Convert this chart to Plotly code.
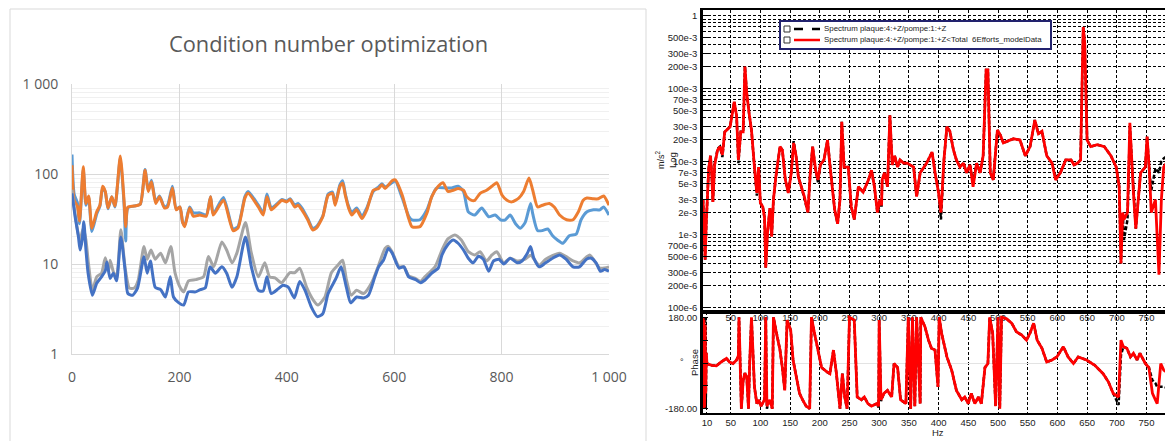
import plotly.graph_objects as go

# ---------------- LEFT CHART DATA (Condition number optimization) ----------------
ORANGE_X = [0, 4, 10, 14, 21, 26, 31, 37, 46, 52, 57, 62, 67, 74, 80, 90, 97, 100, 104, 115, 127, 136, 142, 148, 156, 163, 172, 178, 187, 194, 201, 206, 210, 219, 226, 238, 250, 258, 263, 282, 300, 309, 322, 328, 347, 356, 363, 371, 384, 391, 400, 406, 415, 421, 428, 439, 448, 455, 467, 477, 485, 490, 499, 504, 509, 515, 521, 530, 540, 549, 561, 571, 577, 583, 596, 602, 615, 627, 633, 648, 661, 670, 682, 691, 700, 710, 719, 729, 735, 744, 750, 760, 772, 782, 791, 801, 810, 819, 832, 841, 851, 858, 867, 876, 889, 898, 908, 921, 933, 943, 952, 959, 971, 980, 990, 1000]
ORANGE_Y = [125, 51, 44, 30, 120, 47, 57, 25, 38, 45, 73, 64, 42, 56, 44, 158, 50, 26, 43, 44, 46, 110, 64, 82, 47, 56, 42, 43, 70, 40, 43, 29, 26, 42, 34, 35, 34, 56, 35, 51, 23.5, 25, 54, 61, 43, 35, 56, 40, 47, 51, 49, 52, 43, 45, 40, 31, 24, 25, 33.5, 58, 61, 45, 73, 79, 58, 42, 35, 40, 32, 40, 66, 69, 76, 69, 84, 86, 58, 32, 26, 26, 37, 56, 73, 80, 64, 66, 69, 66, 56, 51, 51, 61, 66, 73, 80, 58, 51, 49, 54, 64, 90, 66, 43, 45, 47, 43, 35, 31, 31, 38, 51, 54, 53, 53, 57, 45]

LBLUE_X = [0, 4, 10, 14, 21, 26, 31, 37, 46, 52, 57, 62, 67, 74, 80, 90, 97, 100, 104, 115, 127, 136, 142, 148, 156, 163, 172, 178, 187, 194, 201, 206, 210, 219, 226, 238, 250, 258, 263, 282, 300, 309, 322, 328, 347, 356, 363, 371, 384, 391, 400, 406, 415, 421, 428, 439, 448, 455, 467, 477, 485, 490, 499, 504, 509, 515, 521, 530, 540, 549, 561, 571, 577, 583, 596, 602, 615, 627, 633, 648, 661, 670, 679, 695, 707, 719, 729, 738, 750, 763, 776, 788, 798, 807, 816, 826, 835, 844, 854, 858, 867, 876, 886, 895, 904, 914, 926, 939, 948, 959, 971, 983, 990, 1000]
LBLUE_Y = [165, 60, 48, 28, 112, 45, 55, 23, 36, 44, 70, 63, 41, 56, 43, 150, 45, 18, 42, 44, 46, 112, 66, 85, 49, 57, 43, 45, 73, 41, 43, 29, 27, 43, 37, 37, 35, 56, 36, 55, 24.5, 26, 56, 64, 45, 37, 60, 42, 48, 52, 50, 53, 45, 47, 42, 32, 25, 26, 34, 60, 63, 47, 76, 84, 60, 44, 37, 42, 34, 42, 64, 72, 78, 72, 80, 84, 54, 34, 31, 31, 40, 56, 70, 70, 70, 73, 64, 38, 35, 42, 33.5, 35, 31, 31, 35, 28, 25, 29, 47, 36, 23.5, 23.5, 24.5, 20.6, 18.5, 17, 20.6, 21.5, 31, 38, 40, 40, 43, 35]

DBLUE_X = [0, 6, 12, 15, 19, 22, 26, 30, 38, 46, 55, 62, 65, 71, 77, 83, 91, 99, 104, 113, 122, 134, 140, 146, 155, 165, 174, 183, 189, 199, 208, 217, 230, 239, 248, 257, 267, 279, 288, 298, 307, 323, 334, 347, 356, 363, 371, 384, 393, 403, 414, 424, 434, 446, 457, 467, 477, 492, 501, 511, 519, 530, 543, 552, 564, 571, 580, 589, 596, 609, 618, 627, 640, 649, 657, 670, 682, 689, 700, 710, 719, 729, 738, 747, 757, 766, 776, 785, 795, 804, 816, 829, 838, 848, 854, 860, 870, 882, 895, 908, 920, 933, 945, 958, 967, 976, 984, 992, 1000]
DBLUE_Y = [61, 33, 20, 14.3, 18.5, 29.5, 14.3, 7.9, 4.5, 6.1, 7.2, 8.4, 10.5, 6.9, 7.9, 6.5, 20, 8.4, 4.7, 4.5, 5.4, 12, 7.9, 10.8, 5.5, 5.2, 4.3, 7.2, 4.3, 3.7, 3.5, 4.9, 4.9, 5.2, 5.4, 9.3, 7.9, 9.3, 7.9, 5.5, 7.2, 20, 9.3, 5.1, 5, 7.2, 4.7, 5.3, 5.8, 5.5, 4.2, 6.4, 5.1, 3.3, 2.6, 2.8, 4.7, 7, 9.3, 5.5, 3.7, 4.3, 4.2, 4.5, 7.2, 9.3, 11, 14.9, 13.3, 9, 9.3, 7.2, 6.7, 6.2, 6.6, 7.9, 9, 12.6, 16.5, 18.5, 17, 14.3, 11.6, 10.3, 12.2, 11.3, 8.3, 10.8, 11.3, 10, 11.6, 10.3, 10.8, 13.2, 15.6, 11.6, 9.3, 10.3, 11.6, 12.6, 11.3, 9.3, 9.3, 11.3, 11.6, 10.3, 8.3, 8.7, 8.3]

GRAY_X = [0, 6, 12, 15, 21, 26, 30.5, 38, 46, 55, 62, 68, 71, 77, 83, 91, 99, 107, 116, 123, 134, 140, 147, 155, 165, 174, 184, 192, 202, 208, 217, 230, 245, 254, 264, 279, 288, 298, 307, 323, 334, 347, 359, 368, 378, 390, 406, 415, 424, 437, 449, 458, 471, 483, 495, 504, 511, 520, 530, 543, 558, 571, 583, 589, 596, 609, 618, 627, 640, 649, 657, 676, 689, 700, 713, 725, 738, 750, 760, 772, 782, 791, 804, 816, 829, 844, 854, 870, 882, 908, 933, 945, 964, 983, 1000]
GRAY_Y = [67, 35, 21, 18.5, 25, 18.5, 10.3, 5.1, 7.2, 7.9, 11.7, 8.4, 11, 8.2, 7.2, 24, 9, 5.4, 5.4, 6.5, 15.6, 11.3, 14.3, 11.3, 13.2, 10.3, 15.6, 7.9, 5.4, 4.9, 6.5, 6.7, 7.2, 12.1, 9.3, 17.6, 14.3, 10.3, 13.2, 29, 13.2, 7.2, 10.3, 7.2, 7, 6.2, 8, 8, 9, 5.5, 4.0, 3.5, 4.3, 8, 9.7, 11, 6.7, 4.5, 5.1, 4.7, 6.2, 9.7, 14.9, 15.7, 13.7, 9.3, 9.3, 7.4, 6.9, 6.4, 7.2, 9.3, 14.3, 19, 21, 18.5, 13.7, 12.6, 13.7, 10.8, 12.6, 13.7, 10.3, 11.6, 10.8, 11.3, 12.5, 9.7, 11.3, 13.2, 10.8, 10.3, 12.6, 9, 9.3]

LEFT_XTICKS = [0, 200, 400, 600, 800, 1000]
LEFT_XTEXT = ["0", "200", "400", "600", "800", "1 000"]
LEFT_YTICKS = [1, 10, 100, 1000]
LEFT_YTEXT = ["1", "10", "100", "1 000"]

# ---------------- RIGHT CHART DATA (Spectrum / Phase) ----------------
MAG_F = [3.5, 5, 7, 9, 11, 13, 16, 18, 20, 23, 28, 32, 36, 40, 49, 56, 60, 63, 67, 71, 74, 77, 81, 85, 90, 94, 97, 100, 104, 107, 109, 112, 116, 119, 122, 126, 133, 137, 142, 147, 152, 156, 160, 164, 169, 174, 180, 184, 188, 193, 197, 201, 207, 213, 217, 221, 225, 230, 234, 237, 241, 248, 253, 258, 262, 265, 273, 282, 287, 292, 297, 301, 304, 305, 309, 314, 318, 322, 326, 331, 335, 341, 347, 358, 363, 369, 380, 389, 394, 400, 404, 409, 414, 419, 425, 430, 436, 442, 447, 453, 458, 464, 470, 475, 480, 483, 487, 492, 499, 504, 509, 515, 526, 537, 546, 554, 562, 568, 574, 582, 591, 597, 605, 614, 623, 628, 634, 639, 642, 643.5, 646, 650, 656, 667, 679, 690, 699, 704, 707, 710, 712, 718, 722, 725, 728, 732, 736, 740, 748, 751, 755, 758, 765, 771, 775, 779, 785, 795]
MAG_RED = [3e-3, 1e-3, 4.5e-4, 1.5e-3, 4e-3, 8e-3, 0.012, 7e-3, 2.8e-3, 9e-3, 0.0144, 0.016, 0.0123, 0.0255, 0.03, 0.066, 0.042, 0.0105, 0.0255, 0.0255, 0.2, 0.087, 0.046, 0.027, 0.0084, 0.0037, 0.0084, 0.0027, 0.0024, 0.0017, 3.5e-4, 1.05e-3, 2.3e-3, 9.3e-4, 3e-3, 6.1e-3, 0.016, 0.0144, 5.6e-3, 3.7e-3, 7e-3, 0.018, 0.012, 6.1e-3, 4.5e-3, 3.3e-3, 2e-3, 7e-3, 0.016, 7.6e-3, 5.6e-3, 9e-3, 0.0105, 0.0197, 9e-3, 4e-3, 2.2e-3, 1.4e-3, 3e-3, 0.035, 8.4e-3, 8.4e-3, 2.4e-3, 1.6e-3, 3e-3, 4.5e-3, 3.8e-3, 5.6e-3, 7.6e-3, 4.5e-3, 2e-3, 3e-3, 2.5e-3, 5.6e-3, 7e-3, 4.5e-3, 0.043, 9e-3, 0.012, 8.4e-3, 0.0105, 9.5e-3, 9.5e-3, 8.4e-3, 3.3e-3, 7e-3, 9.5e-3, 0.0135, 7e-3, 3.7e-3, 2e-3, 0.0105, 0.03, 0.026, 0.0144, 0.0105, 8.4e-3, 9.5e-3, 7e-3, 9e-3, 4.5e-3, 9.5e-3, 7e-3, 0.012, 0.18, 0.18, 7e-3, 5.6e-3, 0.027, 0.023, 0.018, 0.019, 0.0205, 0.0197, 0.012, 0.016, 0.037, 0.024, 0.026, 0.012, 9.5e-3, 5.6e-3, 7e-3, 0.0105, 0.0105, 9e-3, 9.5e-3, 0.0105, 0.2, 0.7, 0.42, 0.0197, 0.016, 0.017, 0.016, 0.012, 8.4e-3, 4.5e-3, 4e-4, 2e-3, 1.6e-3, 2e-3, 0.034, 0.0105, 3.7e-3, 1.2e-3, 3e-3, 7e-3, 8.4e-3, 0.022, 7e-3, 2e-3, 3e-3, 2.8e-4, 3e-3, 8.4e-3, 0.01, 0.0105]
MAG_BLACK = [3e-3, 1e-3, 4.5e-4, 1.5e-3, 4e-3, 8e-3, 0.012, 7e-3, 2.8e-3, 9e-3, 0.015, 0.016, 0.0115, 0.0255, 0.03, 0.066, 0.042, 0.0095, 0.0255, 0.0255, 0.2, 0.087, 0.046, 0.027, 0.0084, 0.0034, 0.0084, 0.0027, 0.0024, 0.0017, 3.5e-4, 1.05e-3, 2.3e-3, 9.3e-4, 3e-3, 6.1e-3, 0.016, 0.0144, 5.6e-3, 3.7e-3, 7e-3, 0.019, 0.012, 6.1e-3, 4.5e-3, 3.0e-3, 2e-3, 7e-3, 0.016, 7.6e-3, 5.2e-3, 9e-3, 0.0105, 0.0197, 9e-3, 4e-3, 2.2e-3, 1.4e-3, 3e-3, 0.035, 8.4e-3, 8.4e-3, 2.4e-3, 1.6e-3, 3e-3, 4.5e-3, 3.8e-3, 5.6e-3, 7.6e-3, 4.5e-3, 2e-3, 2.5e-3, 2.5e-3, 5.6e-3, 7e-3, 4.5e-3, 0.043, 9e-3, 0.012, 8.4e-3, 0.0105, 9.5e-3, 9.5e-3, 8.4e-3, 3.3e-3, 7e-3, 9.5e-3, 0.0135, 7e-3, 3.7e-3, 1.6e-3, 0.0105, 0.03, 0.026, 0.0144, 0.0105, 8.4e-3, 9.5e-3, 7e-3, 9e-3, 5.0e-3, 9.5e-3, 7e-3, 0.012, 0.18, 0.18, 7e-3, 5.6e-3, 0.027, 0.023, 0.018, 0.019, 0.0205, 0.0197, 0.012, 0.016, 0.037, 0.024, 0.026, 0.012, 9.5e-3, 6.0e-3, 7e-3, 0.0105, 0.0105, 9e-3, 9.5e-3, 0.0105, 0.2, 0.7, 0.42, 0.0197, 0.016, 0.017, 0.016, 0.012, 8.4e-3, 4.5e-3, 4e-4, 2e-3, 8.4e-4, 1.6e-3, 0.03, 0.0105, 3.7e-3, 1.2e-3, 3e-3, 7e-3, 8.4e-3, 0.022, 7e-3, 4e-3, 8e-3, 7e-3, 0.01, 0.011, 0.012, 0.012]

PH_F = [3.5, 4, 5, 6, 7, 8, 9, 10, 18, 26, 34, 43, 48, 54, 60, 63, 64, 66, 68, 71, 74, 77, 80, 82, 85, 90, 94, 97, 101, 107, 109, 111, 113, 116, 120, 122, 127, 133, 137, 141, 145, 151, 155, 160, 166, 171, 177, 183, 186, 191, 197, 203, 212, 217, 223, 228, 234, 238, 242, 246, 250, 258, 263, 270, 275, 281, 287, 296, 299, 300, 303, 308, 314, 321, 325, 331, 336, 345, 349, 353, 356, 360, 363, 369, 370, 377, 383, 388, 394, 399, 401, 405, 414, 422, 430, 439, 444, 450, 455, 461, 467, 472, 478, 483, 486, 491, 496, 500, 503, 506, 514, 523, 531, 540, 548, 554, 560, 566, 574, 582, 591, 599, 610, 618, 627, 635, 649, 663, 677, 686, 694, 703, 707, 711, 717, 723, 728, 734, 739, 748, 754, 760, 765, 768, 774, 779, 788, 794]
PH_RED = [180, -180, 170, -175, 150, -120, 40, -2, -9, -11, 4, 18, 4, -2, 12, 30, 180, -30, -180, -68, -40, -55, -180, 0, 180, -94, -160, -145, -170, -145, 180, -170, -160, -145, -180, 180, 118, 51, -18, -108, 169, 130, 12, -55, -120, -145, -170, -180, 180, 118, 51, -18, -35, -42, 51, -42, -180, -42, -134, -180, 180, 169, -134, -145, -134, -160, -170, -160, -170, 169, -145, -120, -108, -134, -2, -18, -145, -160, 180, -180, 180, -170, 180, -160, 180, 143, 90, 58, 51, -94, 180, 118, 24, -28, -108, -145, -134, -160, -120, -160, -134, -160, -18, -2, 180, 118, -170, 180, -180, 180, 175, 157, 123, 110, 90, 118, 157, 90, 58, 4, 12, 24, 64, 24, -2, 24, 12, -9, -42, -75, -120, -134, 90, 64, 58, 24, 38, 12, 38, -2, -18, -120, -145, -160, -2, -28, -42, -68]
PH_BLACK = [180, -180, 180, -180, 180, -180, 40, -2, -9, -11, 4, 18, 4, -2, 12, 30, 180, -30, -180, -68, -40, -55, -180, 0, 180, -94, -160, -145, -170, -145, 180, -180, -160, -145, -180, 180, 118, 51, -18, -108, 169, 130, 12, -55, -120, -145, -170, -180, 180, 118, 51, -18, -35, -42, 51, -42, -180, -42, -134, -180, 180, 169, -134, -145, -134, -160, -170, -160, -175, 169, -150, -120, -108, -134, -2, -18, -145, -160, 180, -180, 180, -170, 180, -160, 180, 143, 90, 58, 51, -94, 180, 118, 24, -28, -108, -145, -134, -160, -120, -160, -134, -160, -18, -2, 180, 118, -170, 180, -180, 180, 175, 157, 123, 110, 90, 118, 157, 90, 58, 4, 12, 24, 64, 24, -2, 24, 12, -9, -42, -75, -120, -165, 30, 64, 58, 24, 38, 12, 38, -2, -18, -68, -80, -94, -94, -94, -100, -108]

MAG_TICKS = [1, 500e-3, 300e-3, 200e-3, 100e-3, 70e-3, 50e-3, 30e-3, 20e-3, 10e-3, 7e-3, 5e-3, 3e-3, 2e-3, 1e-3, 700e-6, 500e-6, 300e-6, 200e-6, 100e-6]
MAG_TICKTEXT = ["1", "500e-3", "300e-3", "200e-3", "100e-3", "70e-3", "50e-3", "30e-3", "20e-3", "10e-3", "7e-3", "5e-3", "3e-3", "2e-3", "1e-3", "700e-6", "500e-6", "300e-6", "200e-6", "100e-6"]
MAG_XTICKS = [50, 100, 150, 200, 250, 300, 350, 400, 450, 500, 550, 600, 650, 700, 750]
PH_XTICKS = [10, 50, 100, 150, 200, 250, 300, 350, 400, 450, 500, 550, 600, 650, 700, 750]
PH_YTICKS = [-180, 180]
PH_YTEXT = ["-180.00", "180.00"]
PH_YMINOR_STEP = 90
LEGEND_NAMES = ["Spectrum plaque:4:+Z/pompe:1:+Z",
                "Spectrum plaque:4:+Z/pompe:1:+Z<Total  6Efforts_modelData"]

# ---------------- layout helpers (window pixel -> paper) ----------------
# the page body keeps an 8px margin, so the figure is drawn 8px in from the window corner
OFF = 8
WIN_W, WIN_H = 1173, 441
W, H = WIN_W - OFF, WIN_H - OFF
def PX(x): return (x - OFF) / W
def PY(y): return 1 - (y - OFF) / H

fig = go.Figure()

for xs, ys, col in [(LBLUE_X, LBLUE_Y, "#5B9BD5"), (ORANGE_X, ORANGE_Y, "#ED7D31"),
                    (GRAY_X, GRAY_Y, "#A5A5A5"), (DBLUE_X, DBLUE_Y, "#4472C4")]:
    fig.add_trace(go.Scatter(x=xs, y=ys, mode="lines", xaxis="x", yaxis="y",
                             line=dict(color=col, width=3, shape="spline", smoothing=0.6),
                             showlegend=False, hoverinfo="skip"))

fig.add_trace(go.Scatter(x=MAG_F, y=MAG_BLACK, mode="lines", xaxis="x2", yaxis="y2",
                         line=dict(color="black", width=2.5, dash="4px,2px"), showlegend=False))
fig.add_trace(go.Scatter(x=MAG_F, y=MAG_RED, mode="lines", xaxis="x2", yaxis="y2",
                         line=dict(color="#FF0000", width=2.8), showlegend=False))
fig.add_trace(go.Scatter(x=PH_F, y=PH_BLACK, mode="lines", xaxis="x3", yaxis="y3",
                         line=dict(color="black", width=2.5, dash="4px,2px"), showlegend=False))
fig.add_trace(go.Scatter(x=PH_F, y=PH_RED, mode="lines", xaxis="x3", yaxis="y3",
                         line=dict(color="#FF0000", width=2.8), showlegend=False))

XL = [3.4, 794.6]
grid_dash = "3px,2px"
excel_font = dict(family="Open Sans", size=14, color="#595959")
lms_font = dict(family="Liberation Sans", size=9.5, color="#222222")

fig.update_layout(
    template="none",
    width=W, height=H, margin=dict(l=0, r=0, t=0, b=0, pad=0),
    paper_bgcolor="white", plot_bgcolor="white", showlegend=False,
    xaxis=dict(domain=[PX(72), PX(609)], anchor="y", range=[0, 1000], automargin=False,
               tickvals=LEFT_XTICKS, ticktext=LEFT_XTEXT, tickfont=excel_font,
               showgrid=True, gridcolor="#D9D9D9", gridwidth=1, zeroline=False,
               showline=True, linecolor="#D9D9D9", ticks="", ticklabelstandoff=10),
    yaxis=dict(domain=[PY(354), PY(84)], anchor="x", type="log", range=[0, 3], automargin=False,
               tickvals=LEFT_YTICKS, ticktext=LEFT_YTEXT, tickfont=excel_font,
               showgrid=True, gridcolor="#D9D9D9", gridwidth=1, zeroline=False,
               showline=True, linecolor="#D9D9D9", ticks="", ticklabelstandoff=10,
               minor=dict(dtick="D1", showgrid=True, gridcolor="#F0F0F0", ticks="")),
    xaxis2=dict(domain=[PX(703), 1], anchor="y2", range=XL, automargin=False,
                tickvals=MAG_XTICKS, ticktext=[str(v) for v in MAG_XTICKS], tickfont=lms_font,
                showgrid=True, gridcolor="black", griddash=grid_dash, gridwidth=1,
                zeroline=False, showline=True, linecolor="black", linewidth=2, mirror=True,
                ticks="", ticklabelstandoff=-4),
    yaxis2=dict(domain=[PY(312), PY(10)], anchor="x2", type="log", range=[-4.064, 0.078],
                automargin=False,
                tickvals=MAG_TICKS, ticktext=MAG_TICKTEXT, tickfont=lms_font,
                showgrid=True, gridcolor="black", griddash=grid_dash, gridwidth=1,
                zeroline=False, showline=True, linecolor="black", linewidth=2.5,
                ticks="inside", ticklen=6, tickcolor="black", ticklabelstandoff=1,
                minor=dict(dtick="D1", showgrid=True, gridcolor="black", griddash=grid_dash, ticks="")),
    xaxis3=dict(domain=[PX(703), 1], anchor="y3", range=XL, automargin=False,
                tickvals=PH_XTICKS, ticktext=[str(v) for v in PH_XTICKS], tickfont=lms_font,
                showgrid=True, gridcolor="black", griddash=grid_dash, gridwidth=1,
                zeroline=False, showline=True, linecolor="black", linewidth=2, mirror=True,
                ticks="", ticklabelstandoff=0),
    yaxis3=dict(domain=[PY(413), PY(312)], anchor="x3", range=[-197, 201], automargin=False,
                tickvals=PH_YTICKS, ticktext=PH_YTEXT, tickfont=lms_font,
                showgrid=False, zeroline=True, zerolinecolor="#E3E3E3", zerolinewidth=1,
                showline=True, linecolor="black", linewidth=2.5,
                ticks="inside", ticklen=5, tickcolor="black", ticklabelstandoff=1,
                minor=dict(tick0=0, dtick=PH_YMINOR_STEP, ticks="inside", ticklen=5,
                           tickcolor="black", showgrid=False)),
)

shapes = [
    dict(type="rect", xref="paper", yref="paper", x0=PX(10), x1=PX(646), y0=PY(460), y1=PY(9),
         line=dict(color="#D9D9D9", width=1), layer="below"),
    dict(type="rect", xref="paper", yref="paper", x0=PX(780), x1=PX(1051), y0=PY(49), y1=PY(21),
         line=dict(color="#22226E", width=2), fillcolor="white", layer="above"),
]
for i, (ly, col, dash) in enumerate([(29, "black", "dash"), (40, "#FF0000", "solid")]):
    shapes.append(dict(type="rect", xref="paper", yref="paper", x0=PX(784), x1=PX(790),
                       y0=PY(ly + 3), y1=PY(ly - 3), line=dict(color="#333333", width=1),
                       fillcolor="white", layer="above"))
    shapes.append(dict(type="line", xref="paper", yref="paper", x0=PX(794), x1=PX(820),
                       y0=PY(ly), y1=PY(ly), line=dict(color=col, width=2.5, dash=dash),
                       layer="above"))
fig.update_layout(shapes=shapes)

def A(text, x, y, size=9.5, angle=0, xanchor="center", family="Liberation Sans", color="#222222"):
    return dict(text=text, x=PX(x), y=PY(y), xref="paper", yref="paper", textangle=angle,
                xanchor=xanchor, yanchor="middle", showarrow=False,
                font=dict(family=family, size=size, color=color))

ann = [
    A("Condition number optimization", 328, 44, size=21.8, family="Open Sans", color="#595959"),
    A("m/s<sup>2</sup>", 660, 160, size=9, angle=-90),
    A("Log", 673, 160, angle=-90),
    A("Phase", 694, 363, angle=-90),
    A("°", 682, 362, size=9),
    A("Hz", 938, 432),
    A("800", 1177, 421),
]
for i, name in enumerate(LEGEND_NAMES):
    ann.append(A(name, 822, 28 + 12 * i, size=7.9, xanchor="left"))
fig.update_layout(annotations=ann)

fig.write_html("out.html")
